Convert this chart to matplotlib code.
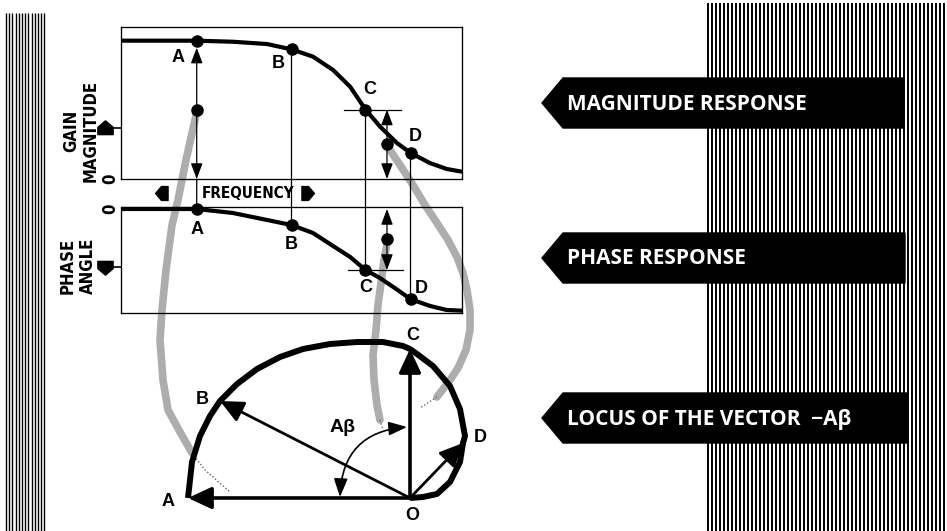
import numpy as np
import matplotlib
matplotlib.use('Agg')
import matplotlib.pyplot as plt
from matplotlib import font_manager as fm
from matplotlib.patches import Polygon, ConnectionPatch, FancyArrowPatch
from matplotlib.path import Path
from matplotlib.markers import MarkerStyle
from matplotlib.transforms import Affine2D

# frequency response (normalised frequency 0..1)
freq = [0.0, 0.222, 0.328, 0.428, 0.5, 0.563, 0.622, 0.672, 0.717, 0.76, 0.809, 0.849, 0.906, 0.955, 1.0]
gain = [0.91, 0.91, 0.903, 0.888, 0.853, 0.805, 0.717, 0.607, 0.457, 0.344, 0.237, 0.172, 0.105, 0.066, 0.048]
phase = [0, 0, -5.9, -16.2, -23.6, -35.4, -54.6, -70.8, -90, -102, -118.7, -133, -143, -149, -150]
pt_names = ['A', 'B', 'C', 'D']
pt_idx = [1, 4, 8, 11]

# locus of -A*beta (x, y from the origin O)
locus_x = [-222, -218, -210, -200, -190, -173, -153, -130, -107, -80, -53, -27, -7, 0, 7, 23, 40, 50, 55, 53, 50, 40, 27, 13, 0]
locus_y = [0, 36, 62, 82, 97, 114, 129, 141, 149, 154, 156, 156, 152, 149, 144, 132, 112, 89, 62, 55, 36, 16, 4, 1, 0]
locus_idx = [0, 4, 13, 19]

banner_labels = ['MAGNITUDE RESPONSE', 'PHASE RESPONSE', 'LOCUS OF THE VECTOR  \u2212A\u03b2']

# grey projection bands (figure pixels)
band_a = ([197, 186, 178, 172, 166, 162, 160, 163, 168, 180, 192], [111, 160, 200, 225, 270, 310, 340, 380, 410, 432, 453])
band_a_tail = ([192, 205, 230], [453, 470, 492])
band_c = ([386, 400, 413, 425, 437, 448, 457, 463, 467, 470, 470, 466, 458, 450, 437], [144, 165, 185, 205, 223, 240, 257, 273, 290, 310, 330, 350, 368, 380, 397])
band_c_tail = ([437, 420], [397, 408])
band_p = ([388, 384, 381, 378, 376, 373, 374, 377, 380], [239, 260, 283, 305, 330, 355, 380, 405, 420])
band_p_tail = ([380, 383], [420, 430])

W, H = 947, 531


def rect(x0, y0, x1, y1):
    return [x0 / W, 1 - y1 / H, (x1 - x0) / W, (y1 - y0) / H]


def pick_condensed():
    best = ('DejaVu Sans', 'normal')
    for f in fm.fontManager.ttflist:
        narrow = 'Narrow' in f.name or 'Condensed' in f.name or f.stretch in ('condensed', 'semi-condensed', 'extra-condensed')
        if narrow:
            best = (f.name, f.stretch if f.stretch != 'normal' else 'condensed')
            if f.weight in ('bold', 700):
                return best
    return best


cond_family, cond_stretch = pick_condensed()
cond = dict(family=cond_family, fontstretch=cond_stretch, fontweight='bold')
lbl = dict(family='Liberation Sans', fontweight='bold', fontsize=13)

house = Path([(-1, -0.8), (1, -0.8), (1, 0.15), (0, 1), (-1, 0.15), (-1, -0.8)], closed=True)


def house_marker(angle):
    return MarkerStyle(house, transform=Affine2D().rotate_deg(angle))


fig = plt.figure(figsize=(9.47, 5.31), dpi=100)

# background layer: stripes, banners, bands
ov = fig.add_axes([0, 0, 1, 1])
ov.set_xlim(0, W)
ov.set_ylim(H, 0)
ov.axis('off')
ov.vlines(np.arange(6, 46, 3.2), 13, H, color='k', lw=1.0)
ov.vlines(np.arange(708, W, 4.0), 3, H, color='k', lw=1.4)

for i, text in enumerate(banner_labels):
    yc = [103, 258, 418][i]
    xr = [903, 905, 907][i]
    ov.add_patch(Polygon([(542, yc), (563, yc - 25), (xr, yc - 25), (xr, yc + 25), (563, yc + 25)],
                         closed=True, color='k', zorder=3))
    ov.text(567, yc + 1, text, color='white', fontsize=15, fontweight='bold', family='Open Sans',
            va='center', ha='left', zorder=4)

for xs, ys in [band_a, band_c, band_p]:
    ov.plot(xs, ys, color='0.68', lw=5.5, solid_capstyle='round', zorder=1)
for xs, ys in [band_a_tail, band_c_tail, band_p_tail]:
    ov.plot(xs, ys, color='0.4', lw=1, ls=(0, (1, 1.5)), zorder=1)

# magnitude response
mag = fig.add_axes(rect(121, 27, 462, 179))
mag.set_facecolor('none')
mag.set_xlim(0, 1)
mag.set_ylim(0, 1)
mag.plot(freq, gain, color='k', lw=3, solid_capstyle='butt', clip_on=False)
pf = [freq[i] for i in pt_idx]
pg = [gain[i] for i in pt_idx]
pp = [phase[i] for i in pt_idx]
mag.plot(pf, pg, 'o', color='k', ms=8, clip_on=False)

# phase response
ph = fig.add_axes(rect(121, 207.5, 462, 312.5))
ph.set_facecolor('none')
ph.set_xlim(0, 1)
ph.set_ylim(-152.7, 2.2)
ph.plot(freq, phase, color='k', lw=3, solid_capstyle='butt', clip_on=False)
ph.plot(pf, pp, 'o', color='k', ms=8, clip_on=False)

for ax in (mag, ph):
    ax.set_xticks([])
    ax.set_yticks([0])
    ax.set_yticklabels(['0'], rotation=90, va='center', fontsize=12, **cond)
    ax.tick_params(axis='y', length=0, pad=1.5)
    for s in ax.spines.values():
        s.set_linewidth(0.95)

mag.set_ylabel('GAIN\nMAGNITUDE', fontsize=12, linespacing=1.15, **cond)
mag.yaxis.set_label_coords(-0.062, 0.316)
ph.set_ylabel('PHASE\nANGLE', fontsize=12, linespacing=1.15, **cond)
ph.yaxis.set_label_coords(-0.07, 0.443)

mag_off = [(-19, -17), (-13, -14), (4, 20), (5, 16)]
ph_off = [(0, -21), (0, -20), (0, -18), (11, 11)]
for n, f, g, p, mo, po in zip(pt_names, pf, pg, pp, mag_off, ph_off):
    mag.annotate(n, (f, g), xytext=mo, textcoords='offset pixels', ha='center', va='center', **lbl)
    ph.annotate(n, (f, p), xytext=po, textcoords='offset pixels', ha='center', va='center', **lbl)

# verticals joining the two plots
for k, (f, g, p) in enumerate(zip(pf, pg, pp)):
    top = 0 if k == 0 else g
    cp = ConnectionPatch(xyA=(f, top), coordsA=mag.transData, xyB=(f, p), coordsB=ph.transData,
                         color='k', lw=0.9)
    fig.add_artist(cp)

head = 'head_length=0.8,head_width=0.3'
# A: gain measured at A
mag.annotate('', xy=(pf[0], pg[0]), xytext=(pf[0], 0),
             arrowprops=dict(arrowstyle='<|-|>,' + head, color='k', lw=0.9, mutation_scale=12,
                             shrinkA=0, shrinkB=5))
mag.plot(pf[0], pg[0] / 2, 'o', color='k', ms=8)

# C: gain and phase at C measured beside the point
fmeas = pf[2] + 0.063
mag.plot([pf[2] - 0.062, pf[2] + 0.104], [pg[2], pg[2]], color='k', lw=0.9)
mag.annotate('', xy=(fmeas, pg[2]), xytext=(fmeas, 0),
             arrowprops=dict(arrowstyle='<|-|>,' + head, color='k', lw=0.9, mutation_scale=12,
                             shrinkA=0, shrinkB=0))
mag.plot(fmeas, pg[2] / 2, 'o', color='k', ms=8)
ph.plot([pf[2] - 0.05, pf[2] + 0.11], [pp[2], pp[2]], color='k', lw=0.9)
ph.annotate('', xy=(fmeas, 0), xytext=(fmeas, pp[2]),
            arrowprops=dict(arrowstyle='<|-|>,' + head, color='k', lw=0.9, mutation_scale=12,
                            shrinkA=0, shrinkB=0))
ph.plot(fmeas, pp[2] / 2, 'o', color='k', ms=8)

# axis direction marks
ov.text(248, 193, 'FREQUENCY', fontsize=11, ha='center', va='center', **cond)
ov.plot(162, 193, marker=house_marker(90), color='k', ms=10)
ov.plot(307, 193, marker=house_marker(-90), color='k', ms=10)
ov.plot(105, 128, marker=house_marker(0), color='k', ms=11)
ov.plot([110, 121], [128, 128], color='k', lw=1.2)
ov.plot(105, 267, marker=house_marker(180), color='k', ms=11)
ov.plot([110, 121], [267, 267], color='k', lw=1.2)

# locus of the vector
lo = fig.add_axes(rect(150, 320, 500, 531))
lo.set_facecolor('none')
lo.set_xlim(-260, 90)
lo.set_ylim(-33, 178)
lo.set_aspect('equal')
lo.axis('off')
lo.plot(locus_x, locus_y, color='k', lw=4.3, solid_joinstyle='round', solid_capstyle='butt')

vec_lw = [2.6, 2.0, 2.6, 2.0]
for i, lw in zip(locus_idx, vec_lw):
    lo.annotate('', xy=(locus_x[i], locus_y[i]), xytext=(0, 0),
                arrowprops=dict(arrowstyle='-|>,head_length=0.75,head_width=0.35', color='k', lw=lw,
                                mutation_scale=19, shrinkA=0, shrinkB=0))

lo_off = [(-20, -3), (-18, 2), (3, 14), (17, 6)]
for n, i, o in zip(pt_names, locus_idx, lo_off):
    lo.annotate(n, (locus_x[i], locus_y[i]), xytext=o, textcoords='offset pixels',
                ha='center', va='center', **lbl)
lo.annotate('O', (0, 0), xytext=(2, -17), textcoords='offset pixels', ha='center', va='center', **lbl)

arc = FancyArrowPatch(posA=(-3, 71), posB=(-70, 1), connectionstyle='arc3,rad=0.44',
                      arrowstyle='<|-|>,head_length=0.8,head_width=0.3', mutation_scale=14,
                      color='k', lw=1.2, shrinkA=0, shrinkB=0)
lo.add_patch(arc)
lo.text(-67, 70, 'A\u03b2', ha='center', va='center', family='Liberation Sans', fontweight='bold', fontsize=14)

fig.savefig('out.png', dpi=100)
